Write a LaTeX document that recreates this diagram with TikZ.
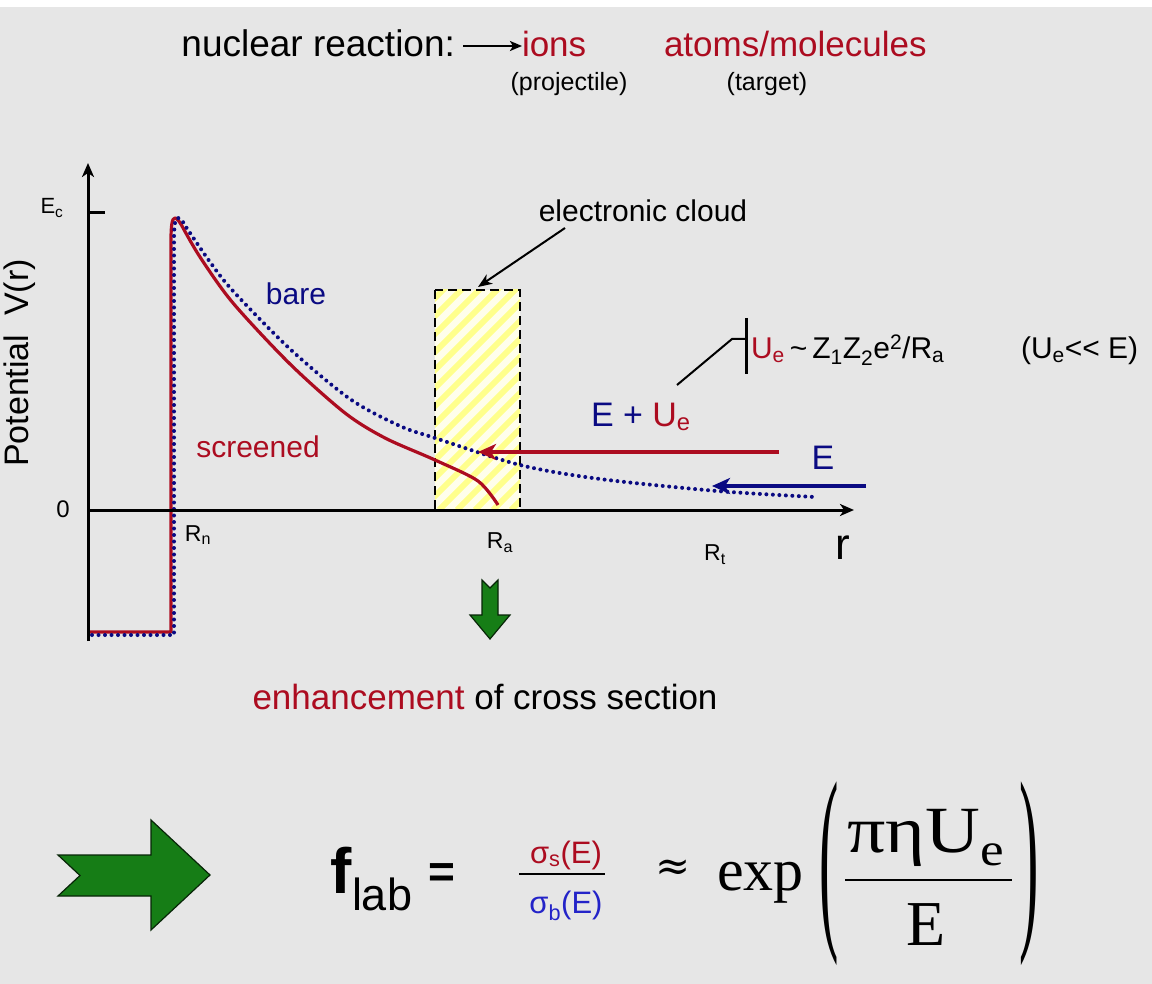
\documentclass[tikz,border=0pt]{standalone}
\usepackage{graphicx}
\usepackage{fontspec}
\setmainfont{Liberation Sans}
\newfontfamily\serifw{Liberation Serif}
\newfontfamily\serifx[FakeStretch=1.15]{Liberation Serif}
\newfontfamily\dejaserif{DejaVu Serif}
\usetikzlibrary{arrows.meta}
\definecolor{bgc}{RGB}{230,230,230}
\definecolor{myred}{RGB}{172,12,32}
\definecolor{myblue}{RGB}{10,10,130}
\definecolor{sigblue}{RGB}{35,35,200}
\definecolor{mygreen}{RGB}{22,125,22}
\definecolor{stripe}{RGB}{255,255,140}
\newcommand{\myfs}[1]{\fontsize{#1}{#1}\selectfont}
\begin{document}
\begin{tikzpicture}[x=1pt,y=-1pt,
  every node/.style={inner sep=0pt,outer sep=0pt},
  axisline/.style={line width=3pt,-{Stealth[length=14pt,width=12pt,inset=4pt]}},
  redcurve/.style={myred,line width=3.2pt,line join=round},
  bluecurve/.style={myblue,line width=4pt,line cap=round,dash pattern=on 0pt off 6.5pt},
  bigarrow/.style={line width=4pt,-{Stealth[length=18pt,width=16pt,inset=5pt]}},
  thinarrow/.style={line width=2pt,-{Stealth[length=14pt,width=11pt,inset=4pt]}},
  greenarrow/.style={fill=mygreen,draw=black!70!mygreen,line width=1.2pt,line join=miter}]
\useasboundingbox (0,0) rectangle (1152,984);
\fill[bgc] (0,0) rectangle (1152,984);
\fill[white] (0,0) rectangle (1152,7);

% title
\node[anchor=base east,font=\myfs{37}] (nr) at (455,57) {nuclear reaction:};
\node[anchor=base west,font=\myfs{35},text=myred] (ions) at (522,57) {ions};
\node[anchor=base west,font=\myfs{35},text=myred] (atoms) at (664,57) {atoms/molecules};
\node[font=\myfs{25}] (proj) at (569,84) {(projectile)};
\node[font=\myfs{25}] (targ) at (767,84) {(target)};
\coordinate (ta) at (463,46);
\draw[line width=2.5pt,-{Stealth[length=12pt,width=10pt,inset=3pt]}] (ta) -- (ta -| ions.west);

% electronic cloud box
\begin{scope}
\clip (435,290) rectangle (520,510);
\fill[white!92!yellow] (435,290) rectangle (520,510);
\foreach \i in {0,18,...,340}
  \draw[stripe,line width=6pt] (205+\i,510) -- ++(240,-240);
\end{scope}
\draw[line width=2.5pt,dash pattern=on 9pt off 5pt] (435,290) rectangle (520,510);
\node[font=\myfs{30}] (cloud) at (643,211) {electronic cloud};
\coordinate (cloudtip) at (478,287);
\draw[thinarrow] (565,228) -- (cloudtip);

% curves
\draw[redcurve] (90,632) -- (171,632) -- (171,240) .. controls (171,226) and (172,218) .. (175,218)
  .. controls (177,218) and (179,221) .. (182,226)
  -- plot[smooth] coordinates {(182,226) (200,257) (233,303) (290,364) (345,413) (385,438) (435,460) (478,481) (498,505)};
\draw[bluecurve] (92,635) -- (174,635) -- (174,240) .. controls (174,226) and (175,218) .. (178,218)
  .. controls (180,218) and (183,221) .. (186,227)
  -- plot[smooth] coordinates {(186,227) (210,262) (233,291) (290,349) (350,399) (400,426) (435,438) (520,465) (600,479) (717,491) (815,497)};

% axes
\coordinate (o) at (88,510);
\coordinate (ybot) at (88,641);
\coordinate (ytop) at (88,163);
\coordinate (xend) at (854,510);
\draw[axisline] (ybot) -- (ytop);
\draw[axisline] (o) -- (xend);
\draw[line width=3pt] (88,213) -- (105,213);

% axis labels
\node[font=\myfs{34},rotate=90] (pot) at (20,363) {Potential~~V(r)};
\node[font=\myfs{22}] (ec) at (52,208) {E\textsubscript{c}};
\node[font=\myfs{24}] (zero) at (63,509) {0};
\node[font=\myfs{23}] (rn) at (198,535) {R\textsubscript{n}};
\node[font=\myfs{23}] (ra) at (500,543) {R\textsubscript{a}};
\node[font=\myfs{23}] (rt) at (715,555) {R\textsubscript{t}};
\node[font=\myfs{44}] (r) at (843,548) {r};
\node[font=\myfs{30},text=myblue] (bare) at (296,294) {bare};
\node[font=\myfs{30},text=myred] (scr) at (258,447) {screened};

% energies
\coordinate (redstart) at (779,452);
\coordinate (redtip) at (478,452);
\draw[bigarrow,myred] (redstart) -- (redtip);
\coordinate (bluestart) at (866,486);
\coordinate (bluetip) at (712,486);
\draw[bigarrow,myblue] (bluestart) -- (bluetip);
\node[anchor=base west,font=\myfs{34}] (epu) at (591,426) {\textcolor{myblue}{E + }\textcolor{myred}{U\textsubscript{e}}};
\node[font=\myfs{34},text=myblue] (e) at (823,458) {E};

% Ue formula
\node[anchor=base west,font=\myfs{30}] (ue) at (751,359) {\textcolor{myred}{U\textsubscript{e}}\,\textasciitilde\,Z\textsubscript{1}Z\textsubscript{2}e\textsuperscript{2}/R\textsubscript{a}};
\node[anchor=base west,font=\myfs{30}] (uell) at (1021,359) {(U\textsubscript{e}<{}< E)};
\coordinate (bt) at (746,318);
\coordinate (bb) at (746,374);
\coordinate (lk) at (732,339);
\coordinate (lend) at (677,385);
\draw[line width=3pt] (bt) -- (bb);
\draw[line width=2pt] (lend) -- (lk) -- (lk -| bt);

% green down arrow
\draw[greenarrow] (482,580) -- (490,588) -- (498,580) -- (498,615) -- (510,615) -- (490,639) -- (470,615) -- (482,615) -- cycle;
\node[font=\myfs{35}] (enh) at (485,697) {\textcolor{myred}{enhancement} of cross section};

% big right arrow
\draw[greenarrow] (58,855) -- (151,855) -- (151,820) -- (210,875) -- (151,930) -- (151,896) -- (58,896) -- (80,875.5) -- cycle;

% formula
\node[anchor=base west,font=\bfseries\myfs{64}] (f) at (330,893) {f};
\node[anchor=base west,font=\myfs{45}] (lab) at (352,910) {lab};
\node[font=\bfseries\myfs{46}] (eq) at (442,876) {=};
\node[anchor=base,font=\myfs{31},text=myred] (num) at (566,863) {σ\textsubscript{s}(E)};
\node[anchor=base,font=\myfs{31},text=sigblue] (den) at (566,913) {σ\textsubscript{b}(E)};
\draw[line width=2.5pt] (519,874) -- (605,874);
\node[font=\dejaserif\myfs{42}] (approx) at (673,870) {≈};
\node[anchor=base west,font=\serifw\myfs{60}] (exp) at (717,890) {exp};
\node[font=\serifw\myfs{58}] (lp) at (829,874) {\scalebox{1}[3.5]{(}};
\node[font=\serifw\myfs{58}] (rp) at (1029,874) {\scalebox{1}[3.5]{)}};
\node[anchor=base,font=\serifx\myfs{66}] (fnum) at (926,852) {πηU\textsubscript{e}};
\node[anchor=base,font=\serifw\myfs{64}] (fden) at (926,945) {E};
\draw[line width=2.5pt] (845,880) -- (1012,880);
\end{tikzpicture}
\end{document}
